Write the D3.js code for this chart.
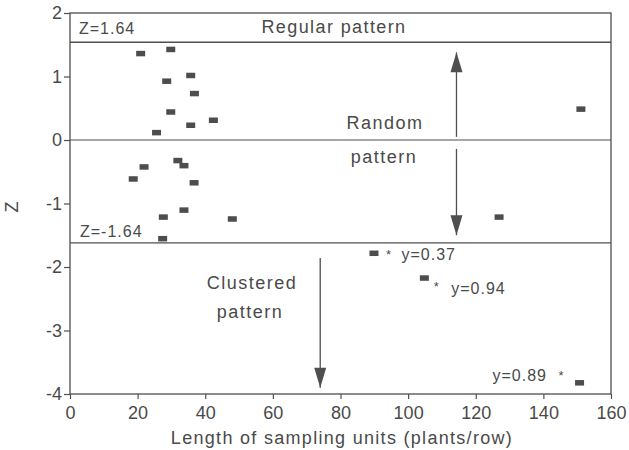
<!DOCTYPE html>
<html><head><meta charset="utf-8">
<script src="https://cdn.jsdelivr.net/npm/d3@7"></script>
<style>
body{margin:0;background:#fff;}
text{font-family:"Liberation Sans",Arial,sans-serif;fill:#4a4a4a;}
</style></head>
<body><svg id="c" width="629" height="450"></svg>
<script>
// data
const lengthValues = [20.9,29.8,35.7,28.6,36.8,29.8,42.4,35.7,25.6,31.9,33.7,21.9,18.7,36.7,33.7,27.6,48.0,27.4,151.1,126.9,89.9,104.8,150.7];
const zValues      = [1.365,1.43,1.02,0.93,0.735,0.445,0.315,0.236,0.12,-0.32,-0.40,-0.42,-0.61,-0.67,-1.10,-1.21,-1.24,-1.55,0.49,-1.21,-1.78,-2.17,-3.82];
const starX = [94.2,108.3,145.2];
const starZ = [-1.77,-2.27,-3.67];
const starLabels = ["y=0.37","y=0.94","y=0.89"];
const xTicks = [0,20,40,60,80,100,120,140,160];
const yTicks = [2,1,0,-1,-2,-3,-4];
const boundaryZ = [1.54,0,-1.62];

const svg = d3.select("#c");
const x = d3.scaleLinear().domain([0,160]).range([70,611]);
const y = d3.scaleLinear().domain([-4,2]).range([394,13]);
const col = "#4f4f4f";

// frame
svg.append("rect").attr("x",x(0)).attr("y",y(2)).attr("width",x(160)-x(0)).attr("height",y(-4)-y(2))
  .attr("fill","none").attr("stroke",col).attr("stroke-width",1.3);

// axes
const gx = svg.append("g").attr("transform",`translate(0,${y(-4)})`)
  .call(d3.axisBottom(x).tickValues(xTicks).tickSize(5).tickPadding(7));
const gy = svg.append("g").attr("transform",`translate(${x(0)},0)`)
  .call(d3.axisLeft(y).tickValues(yTicks).tickSize(6).tickPadding(2).tickFormat(d=>d));
[gx,gy].forEach(g=>{
  g.select(".domain").remove();
  g.selectAll("line").attr("stroke",col).attr("stroke-width",1.2);
  g.selectAll("text").attr("font-size",18).attr("fill","#4a4a4a").style("font-family","Liberation Sans, Arial, sans-serif");
});

// boundary lines
svg.selectAll("line.b").data(boundaryZ).enter().append("line")
  .attr("x1",x(0)).attr("x2",x(160)).attr("y1",d=>y(d)).attr("y2",d=>y(d))
  .attr("stroke",col).attr("stroke-width",d=>d===0?1.1:1.4);

// arrows
function arrow(xv, z1, z2){
  svg.append("line").attr("x1",x(xv)).attr("x2",x(xv)).attr("y1",y(z1)).attr("y2",y(z2))
    .attr("stroke",col).attr("stroke-width",1.3);
  const dir = z2>z1 ? 1 : -1;
  const tx = x(xv), ty = y(z2);
  svg.append("path").attr("d",`M${tx},${ty} L${tx-6},${ty+dir*20} L${tx+6},${ty+dir*20} Z`).attr("fill",col);
}
arrow(114.3, 0.05, 1.38);
arrow(114.3, -0.14, -1.50);
arrow(74.0, -1.86, -3.90);

// points
svg.selectAll("rect.p").data(lengthValues).enter().append("rect")
  .attr("x",(d)=>x(d)-4.5).attr("y",(d,i)=>y(zValues[i])-2.5)
  .attr("width",9).attr("height",5.5).attr("fill","#4d4d4d");

// asterisks & labels
svg.selectAll("text.s").data(starX).enter().append("text")
  .attr("x",d=>x(d)).attr("y",(d,i)=>y(starZ[i])+7).attr("text-anchor","middle")
  .attr("font-size",13).text("*");
const labelPos = [{dx:13,a:"start",dy:8},{dx:15,a:"start",dy:10},{dx:-14,a:"end",dy:8}];
svg.selectAll("text.l").data(starLabels).enter().append("text")
  .attr("x",(d,i)=>x(starX[i])+labelPos[i].dx).attr("y",(d,i)=>y(starZ[i])+labelPos[i].dy)
  .attr("text-anchor",(d,i)=>labelPos[i].a).attr("font-size",16).attr("letter-spacing",1).text(d=>d);

// region texts
function label(t,xp,yp,fs,ls,anchor){
  svg.append("text").attr("x",xp).attr("y",yp).attr("font-size",fs).attr("letter-spacing",ls)
    .attr("text-anchor",anchor||"start").text(t);
}
label("Z=1.64",79,34,16,1);
label("Z=-1.64",80,237,16,1);
label("Regular pattern",334,33,18,1.4,"middle");
label("Random",385,129,18,1.5,"middle");
label("pattern",384,163,18,1.5,"middle");
label("Clustered",252,289,18,1.5,"middle");
label("pattern",250,318,18,1.5,"middle");

// axis titles
label("Length of sampling units (plants/row)",342,444,18,1.3,"middle");
svg.append("text").attr("transform","translate(18,207) rotate(-90)").attr("text-anchor","middle").attr("font-size",18).text("Z");
</script></body></html>
